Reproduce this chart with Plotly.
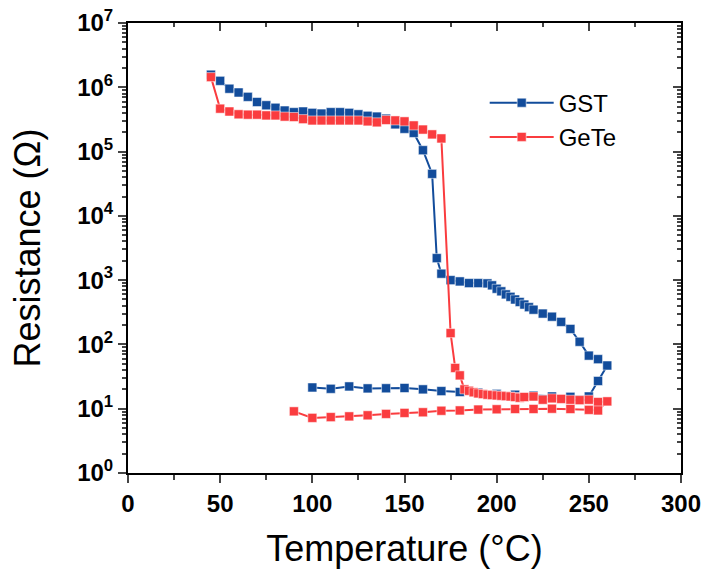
import plotly.graph_objects as go

# ---------------- data ----------------
gst_heat_T = [45, 50, 55, 60, 65, 70, 75, 80, 85, 90, 95, 100, 105, 110, 115, 120, 125, 130, 135, 140,
              145, 150, 155, 160, 165, 167.5, 170, 175, 180, 185, 190, 195, 197.5, 200, 202.5, 205,
              207.5, 210, 212.5, 215, 217.5, 220, 225, 230, 235, 240, 245, 250, 255, 260]
gst_heat_R = [1.57e6, 1.26e6, 9.5e5, 8.3e5, 7.1e5, 5.9e5, 5.25e5, 4.8e5, 4.35e5, 4.1e5, 4.2e5, 4.0e5,
              3.9e5, 4.1e5, 4.1e5, 4.0e5, 3.8e5, 3.6e5, 3.5e5, 3.25e5, 2.65e5, 2.26e5, 1.95e5, 1.05e5,
              4.5e4, 2.2e3, 1.26e3, 1000, 955, 900, 900, 890, 830, 735, 670, 600, 550, 500, 457, 417,
              380, 347, 302, 270, 224, 174, 110, 67, 59, 47]
gst_cool_T = [255, 250, 240, 230, 220, 210, 200, 190, 180, 170, 160, 150, 140, 130, 120, 110, 100]
gst_cool_R = [27, 15.5, 15.3, 15.5, 16, 16.5, 17, 17.8, 18.2, 18.8, 20, 21, 20.8, 20.7, 22.2, 20.4, 21.4]

gete_heat_T = [45, 50, 55, 60, 65, 70, 75, 80, 85, 90, 95, 100, 105, 110, 115, 120, 125, 130, 135, 140,
               145, 150, 155, 160, 165, 170, 175, 177.5, 180, 182.5, 185, 187.5, 190, 192.5, 195, 197.5,
               200, 202.5, 205, 207.5, 210, 212.5, 215, 220, 225, 230, 235, 240, 245, 250, 255, 260]
gete_heat_R = [1.44e6, 4.65e5, 4.2e5, 3.8e5, 3.75e5, 3.75e5, 3.65e5, 3.65e5, 3.5e5, 3.45e5, 3.2e5, 3.05e5,
               3.05e5, 3.05e5, 3.05e5, 3.05e5, 3.05e5, 2.95e5, 2.85e5, 3.1e5, 3.05e5, 2.95e5, 2.55e5,
               2.2e5, 1.85e5, 1.6e5, 150, 43, 33, 20, 19, 18, 17.3, 16.9, 16.5, 16.3, 16.1, 15.9, 15.7,
               15.5, 15.2, 14.8, 15.2, 15.5, 13.8, 14.5, 14.2, 13.8, 13.6, 13.8, 12.7, 13.0]
gete_cool_T = [255, 250, 240, 230, 220, 210, 200, 190, 180, 170, 160, 150, 140, 130, 120, 110, 100, 90]
gete_cool_R = [9.4, 9.6, 9.9, 10.0, 9.9, 9.9, 9.8, 9.7, 9.4, 9.3, 8.8, 8.6, 8.3, 7.9, 7.6, 7.4, 7.2, 9.1]

x_ticks = [0, 50, 100, 150, 200, 250, 300]
y_tickvals = [1, 10, 100, 1e3, 1e4, 1e5, 1e6, 1e7]
y_ticktext = ["10<sup>0</sup>", "10<sup>1</sup>", "10<sup>2</sup>", "10<sup>3</sup>",
              "10<sup>4</sup>", "10<sup>5</sup>", "10<sup>6</sup>", "10<sup>7</sup>"]

BLUE = "#124C9B"
RED = "#FA3C3F"
FONT = "Liberation Sans, Arial, sans-serif"

fig = go.Figure()
fig.add_trace(go.Scatter(
    x=gst_heat_T + gst_cool_T, y=gst_heat_R + gst_cool_R, name="GST", mode="lines+markers",
    line=dict(color=BLUE, width=2),
    marker=dict(symbol="square", size=9, color=BLUE, line=dict(color="rgba(255,255,255,0.5)", width=1))))
fig.add_trace(go.Scatter(
    x=gete_heat_T + gete_cool_T, y=gete_heat_R + gete_cool_R, name="GeTe", mode="lines+markers",
    line=dict(color=RED, width=2),
    marker=dict(symbol="square", size=9, color=RED, line=dict(color="rgba(255,255,255,0.5)", width=1))))
# invisible trace to carry the mirrored (inward-tick) top/right axes
fig.add_trace(go.Scatter(x=[None], y=[None], xaxis="x2", yaxis="y2", showlegend=False, hoverinfo="skip"))

fig.update_layout(
    width=705, height=574,
    margin=dict(l=128, r=24, t=23, b=101),
    paper_bgcolor="white", plot_bgcolor="white",
    font=dict(family=FONT, color="black"),
    showlegend=True,
    legend=dict(x=0.645, y=0.872, xanchor="left", yanchor="top", bgcolor="rgba(0,0,0,0)",
                font=dict(family=FONT, size=24, color="black"), itemwidth=64, tracegroupgap=0),
    xaxis=dict(range=[0, 300], tickvals=x_ticks, ticks="outside", ticklen=8, tickwidth=2, automargin=False,
               showline=True, linewidth=2, linecolor="black", showgrid=False, zeroline=False,
               tickfont=dict(family=FONT, size=24, color="black", weight="bold"),
               minor=dict(dtick=25, ticks="outside", ticklen=5, tickwidth=2, showgrid=False),
               title=dict(text="Temperature (°C)", font=dict(family=FONT, size=36, color="black"), standoff=20)),
    yaxis=dict(type="log", range=[0, 7], tickvals=y_tickvals, ticktext=y_ticktext, ticks="outside", ticklen=8,
               tickwidth=2, showline=True, linewidth=2, linecolor="black", showgrid=False, zeroline=False,
               automargin=False,
               tickfont=dict(family=FONT, size=24, color="black", weight="bold"),
               minor=dict(dtick="D1", ticks="outside", ticklen=4, tickwidth=1.5, showgrid=False),
               title=dict(text="Resistance (Ω)", font=dict(family=FONT, size=36, color="black"), standoff=26)),
    xaxis2=dict(overlaying="x", side="top", anchor="y", range=[0, 300], tickvals=x_ticks, ticks="inside",
                ticklen=8, tickwidth=2, showticklabels=False, showline=True, linewidth=2, linecolor="black",
                showgrid=False, zeroline=False, automargin=False,
                minor=dict(dtick=25, ticks="inside", ticklen=4, tickwidth=2, showgrid=False)),
    yaxis2=dict(overlaying="y", side="right", anchor="x", type="log", range=[0, 7], tickvals=y_tickvals,
                ticks="inside", ticklen=8, tickwidth=2, showticklabels=False, showline=True, linewidth=2,
                linecolor="black", showgrid=False, zeroline=False, automargin=False,
                minor=dict(dtick="D1", ticks="inside", ticklen=4, tickwidth=1.5, showgrid=False)),
)

fig.write_html("out.html", config={"displayModeBar": False},
               post_script="document.body.style.margin='0';document.body.style.padding='0';")
